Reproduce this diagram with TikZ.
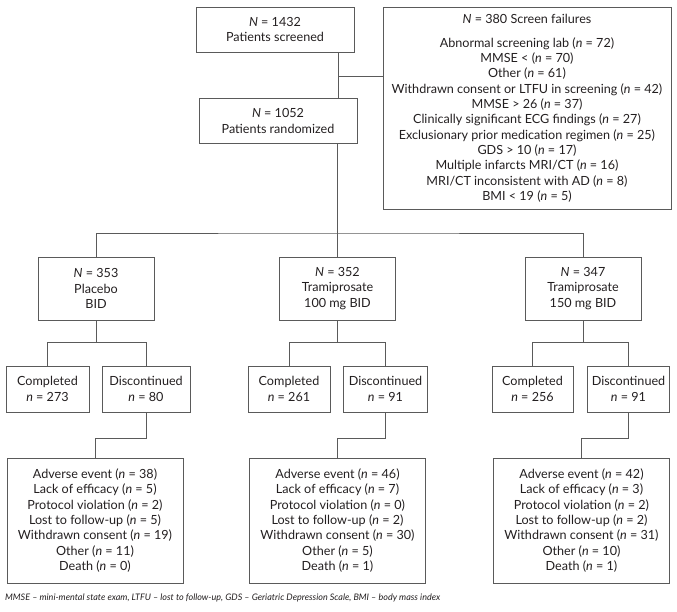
\documentclass[tikz,border=0pt]{standalone}
\usepackage{fontspec}
\setmainfont{Lato}
\usepackage{tikz}
\usetikzlibrary{positioning,calc}
\usepackage{xcolor}
\definecolor{cLine}{RGB}{90,90,90}
\definecolor{cText}{RGB}{35,31,32}
\tikzset{
  basebox/.style={rectangle,draw=cLine,line width=0.8pt,align=center,
                  inner sep=0pt,text=cText,
                  font=\fontsize{12.6}{15.3}\selectfont},
  topnode/.style={basebox,minimum width=158pt,minimum height=45pt},
  failnode/.style={basebox,minimum width=288pt,minimum height=202pt},
  armnode/.style={basebox,minimum width=116pt,minimum height=63pt},
  outnode/.style={basebox,minimum height=46pt},
  whynode/.style={basebox,minimum width=176pt,minimum height=125pt},
  lnk/.style={draw=cLine,line width=0.8pt}
}

\begin{document}
\begin{tikzpicture}[x=1pt,y=-1pt]
  \useasboundingbox (0,0) rectangle (677,611);

  % screening
  \node[topnode] (scr) at (275,29.5)
      {\textit{N} = 1432\\Patients screened};
  \node[topnode] (rand) at (278,121)
      {\textit{N} = 1052\\Patients randomized};
  \node[failnode] (sf) at (527,108)
      {\textit{N} = 380 Screen failures\\[9pt]
       Abnormal screening lab (\textit{n} = 72)\\
       MMSE < (\textit{n} = 70)\\
       Other (\textit{n} = 61)\\
       Withdrawn consent or LTFU in screening (\textit{n} = 42)\\
       MMSE > 26 (\textit{n} = 37)\\
       Clinically significant ECG findings (\textit{n} = 27)\\
       Exclusionary prior medication regimen (\textit{n} = 25)\\
       GDS > 10 (\textit{n} = 17)\\
       Multiple infarcts MRI/CT (\textit{n} = 16)\\
       MRI/CT inconsistent with AD (\textit{n} = 8)\\
       BMI < 19 (\textit{n} = 5)};

  % arms
  \node[armnode] (plc) at (96,288.5)
      {\textit{N} = 353\\Placebo\\BID};
  \node[armnode] (mid) at (337.5,288.5)
      {\textit{N} = 352\\Tramiprosate\\100 mg BID};
  \node[armnode] (hi) at (583,288.5)
      {\textit{N} = 347\\Tramiprosate\\150 mg BID};

  % outcomes
  \node[outnode,minimum width=83pt] (plcC) at (47.5,389)
      {Completed\\\textit{n} = 273};
  \node[outnode,minimum width=88pt] (plcD) at (146,389)
      {Discontinued\\\textit{n} = 80};
  \node[outnode,minimum width=82pt] (midC) at (289,389)
      {Completed\\\textit{n} = 261};
  \node[outnode,minimum width=84pt] (midD) at (385.5,389)
      {Discontinued\\\textit{n} = 91};
  \node[outnode,minimum width=81pt] (hiC) at (532.5,389)
      {Completed\\\textit{n} = 256};
  \node[outnode,minimum width=82pt] (hiD) at (628.5,389)
      {Discontinued\\\textit{n} = 91};

  % reasons
  \node[whynode] (plcR) at (95,520.5)
      {Adverse event (\textit{n} = 38)\\
       Lack of efficacy (\textit{n} = 5)\\
       Protocol violation (\textit{n} = 2)\\
       Lost to follow-up (\textit{n} = 5)\\
       Withdrawn consent (\textit{n} = 19)\\
       Other (\textit{n} = 11)\\
       Death (\textit{n} = 0)};
  \node[whynode] (midR) at (337.5,520.5)
      {Adverse event (\textit{n} = 46)\\
       Lack of efficacy (\textit{n} = 7)\\
       Protocol violation (\textit{n} = 0)\\
       Lost to follow-up (\textit{n} = 2)\\
       Withdrawn consent (\textit{n} = 30)\\
       Other (\textit{n} = 5)\\
       Death (\textit{n} = 1)};
  \node[whynode] (hiR) at (581.5,520.5)
      {Adverse event (\textit{n} = 42)\\
       Lack of efficacy (\textit{n} = 3)\\
       Protocol violation (\textit{n} = 2)\\
       Lost to follow-up (\textit{n} = 2)\\
       Withdrawn consent (\textit{n} = 31)\\
       Other (\textit{n} = 10)\\
       Death (\textit{n} = 1)};

  \node[anchor=west,text=cText,inner sep=0pt,
        font=\fontsize{9}{11}\selectfont\itshape] (note) at (5,598)
      {MMSE -- mini-mental state exam, LTFU -- lost to follow-up,
       GDS -- Geriatric Depression Scale, BMI -- body mass index};

  \coordinate (jn) at (338,76);
  \coordinate (br) at (337.5,233);

  \draw[lnk] (scr.south -| jn)--(rand.north -| jn);
  \draw[lnk] (jn)--(jn -| sf.west);
  \draw[lnk] (rand.south -| br)--(br);
  \draw[lnk] (plc.north)|-(br)-|(hi.north);
  \draw[lnk] (br)--(mid.north);

  \draw[lnk] (plc.south)--++(0,23);
  \draw[lnk] (plcC.north)--++(0,-23)-|(plcD.north);
  \draw[lnk] (mid.south)--++(0,23);
  \draw[lnk] (midC.north)--++(0,-23)-|(midD.north);
  \draw[lnk] (hi.south)--++(0,23);
  \draw[lnk] (hiC.north)--++(0,-23)-|(hiD.north);

  \draw[lnk] (plcD.south)--++(0,26)-|(plcR.north);
  \draw[lnk] (midD.south)--++(0,26)-|(midR.north);
  \draw[lnk] (hiD.south)--++(0,26)-|(hiR.north);
\end{tikzpicture}
\end{document}
